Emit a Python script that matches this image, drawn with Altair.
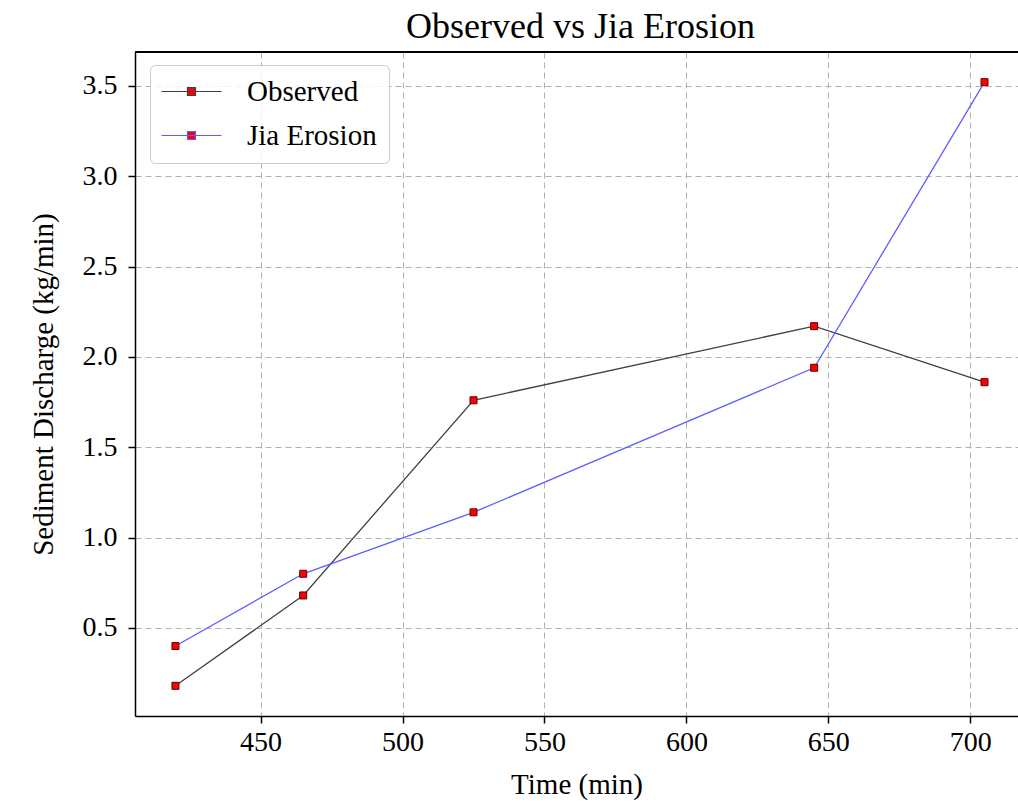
import altair as alt
import pandas as pd

time_min = [420, 465, 525, 645, 705]
observed = [0.18, 0.68, 1.76, 2.17, 1.86]
jia_erosion = [0.40, 0.80, 1.14, 1.94, 3.52]
series_names = ["Observed", "Jia Erosion"]
series_colors = ["#404040", "#5e5eff"]
x_ticks = [450, 500, 550, 600, 650, 700]
y_ticks = [0.5, 1.0, 1.5, 2.0, 2.5, 3.0, 3.5]

rows = []
for t, o in zip(time_min, observed):
    rows.append({"time": t, "value": o, "series": "Observed"})
for t, j in zip(time_min, jia_erosion):
    rows.append({"time": t, "value": j, "series": "Jia Erosion"})
df = pd.DataFrame(rows)

FONT = "Liberation Serif"
W, H = 883, 664

x_enc = alt.X("time:Q", scale=alt.Scale(domain=[405.75, 716.8], nice=False, zero=False),
              axis=alt.Axis(values=x_ticks, title="Time (min)", format="d", titlePadding=14))
y_enc = alt.Y("value:Q", scale=alt.Scale(domain=[0.013, 3.687], nice=False, zero=False),
              axis=alt.Axis(values=y_ticks, title="Sediment Discharge (kg/min)", format=".1f",
                            titlePadding=24))

lines = alt.Chart(df).mark_line(strokeWidth=1.3).encode(
    x=x_enc,
    y=y_enc,
    color=alt.Color("series:N",
                    scale=alt.Scale(domain=series_names, range=series_colors),
                    sort=series_names,
                    legend=alt.Legend(
                        title=None, orient="none", legendX=15, legendY=13,
                        symbolType="M-3,0H9M2.2,-0.8H3.8V0.8H2.2Z",
                        symbolSize=100, symbolFillColor="red", symbolStrokeWidth=1.2,
                        labelOffset=56, labelFont=FONT, labelFontSize=29,
                        labelColor="black", rowPadding=14, padding=12,
                        strokeColor="#cccccc", cornerRadius=5,
                        fillColor="rgba(255,255,255,0.85)")),
    detail="series:N",
)

points = alt.Chart(df).mark_point(shape="square", filled=True, fill="red",
                                  stroke="#600000", strokeWidth=1, size=49, opacity=1).encode(
    x="time:Q", y="value:Q"
)

top_line = alt.Chart(df).mark_rule(color="black", strokeWidth=1.5).encode(
    x=alt.value(0), x2=alt.value(W), y=alt.value(0)
)

chart = alt.layer(lines, points, top_line).properties(
    width=W, height=H,
    title=alt.TitleParams("Observed vs Jia Erosion", font=FONT, fontSize=36,
                          fontWeight="normal", color="black", offset=5, dx=4),
    autosize=alt.AutoSizeParams(type="none"),
    padding={"left": 135, "top": 52, "right": 0, "bottom": 89},
    background="white",
).configure_view(stroke=None).configure_axis(
    labelFont=FONT, labelFontSize=28, labelColor="black",
    titleFont=FONT, titleFontSize=29, titleFontWeight="normal", titleColor="black",
    domainColor="black", domainWidth=1.5, tickColor="black", tickWidth=1.5,
    tickSize=7, labelPadding=11, grid=True, gridColor="#b0b0b0",
    gridDash=[6, 4], gridWidth=1,
).configure_axisX(labelPadding=5)

chart.save("out.html", embed_options={"renderer": "svg", "actions": False})
